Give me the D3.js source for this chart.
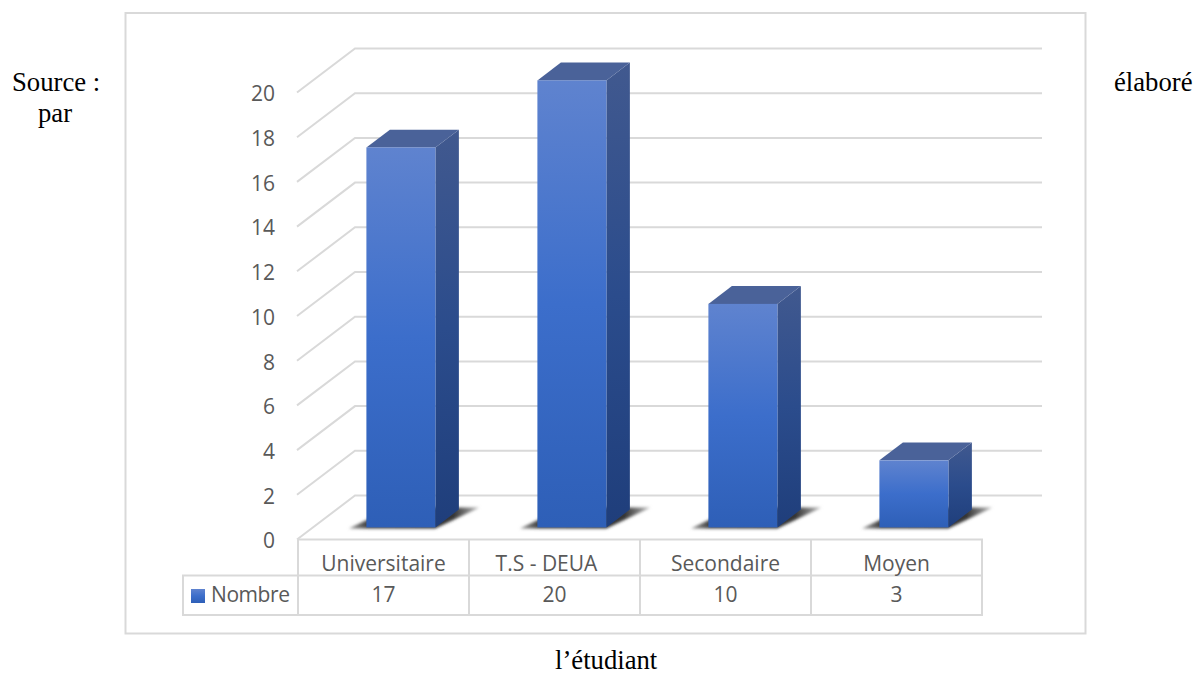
<!DOCTYPE html>
<html lang="fr">
<head>
<meta charset="utf-8">
<title>Nombre par niveau d'études</title>
<script src="https://cdn.jsdelivr.net/npm/d3@7/dist/d3.min.js"></script>
<style>
html,body{margin:0;padding:0;background:#fff;}
svg{display:block;}
.tick-label,.cell{font-family:"Open Sans",sans-serif;font-size:21px;fill:#595959;}
.note{font-family:"Liberation Serif",serif;font-size:26.7px;fill:#000;}
</style>
</head>
<body>
<svg id="chart" width="1194" height="675"></svg>
<script>
const categories = ["Universitaire", "T.S - DEUA", "Secondaire", "Moyen"];
const values = [17, 20, 10, 3];
const seriesName = "Nombre";
const yTicks = [0, 2, 4, 6, 8, 10, 12, 14, 16, 18, 20];

const svg = d3.select("#chart");
const grey = "#d9d9d9";

const x = d3.scaleBand().domain(categories).range([298, 982]);
const y = d3.scaleLinear().domain([0, 20]).range([539.5, 92.5]);

// Oblique projection: depth 0 is the front of the floor, depth 1 the back wall.
const depthX = 58, depthY = -44;
const project = (px, v, depth) => [px + depthX * depth, y(v) + depthY * depth];
const path = pts => "M" + pts.map(p => p.join(",")).join("L") + "Z";

const barDepthFront = 0.275, barDepthBack = 0.68;
const barWidth = 69;
const barInset = 68.4;

// Gradients and soft shadow
const defs = svg.append("defs");
function gradient(id, stops, horizontal) {
  const g = defs.append("linearGradient").attr("id", id)
    .attr("x1", 0).attr("y1", 0).attr("x2", horizontal ? 1 : 0).attr("y2", horizontal ? 0 : 1);
  stops.forEach(s => g.append("stop").attr("offset", s[0]).attr("stop-color", s[1]));
}
gradient("front", [[0, "#5f83cf"], [0.5, "#3c6ecb"], [1, "#2e5fb7"]]);
gradient("side", [[0, "#41598f"], [0.5, "#2b4c8c"], [1, "#1f3e7b"]]);
gradient("legendKey", [[0, "#5f83cf"], [0.5, "#3c6ecb"], [1, "#2e5fb7"]]);
gradient("shadow", [[0, "#999"], [0.14, "#444"], [0.8, "#333"], [1, "#bbb"]], true);
defs.append("filter").attr("id", "soft")
  .attr("x", "-20%").attr("y", "-40%").attr("width", "140%").attr("height", "180%")
  .append("feGaussianBlur").attr("stdDeviation", 1.5);

// Outer frame
svg.append("rect").attr("x", 125.5).attr("y", 13).attr("width", 960).attr("height", 620.5)
  .attr("fill", "#fff").attr("stroke", grey).attr("stroke-width", 2);

// Gridlines: slanted on the side wall, horizontal on the back wall
const grid = svg.append("g").attr("fill", "none").attr("stroke", grey).attr("stroke-width", 2);
yTicks.forEach(t => {
  const a = project(297, t, 0), b = project(297, t, 1), c = [1042, b[1]];
  grid.append("path").attr("d", `M${a}L${b}L${c}`);
});

// Value axis labels
svg.append("g").selectAll("text").data(yTicks).join("text")
  .attr("class", "tick-label").attr("text-anchor", "end")
  .attr("x", 275).attr("y", d => y(d)).attr("dy", "0.42em")
  .text(d => d);

// Bars
const bars = svg.append("g").selectAll("g").data(categories).join("g");

bars.append("path")
  .attr("fill", "url(#shadow)").attr("filter", "url(#soft)")
  .attr("d", d => {
    const x0 = x(d) + barInset - 17.5, x1 = x(d) + barInset + barWidth;
    const base = project(0, 0, barDepthFront)[1];
    return path([[x0, base + 1], [x1, base + 1], [x1 + 44, base - 20], [x0 + 44, base - 20]]);
  });

bars.each(function (d, i) {
  const g = d3.select(this), v = values[i];
  const xl = x(d) + barInset;
  const xr = xl + barWidth;
  const dx = depthX * (barDepthBack - barDepthFront);
  const dy = depthY * (barDepthBack - barDepthFront);
  const top = project(0, v, barDepthFront)[1];
  const base = project(0, 0, barDepthFront)[1];
  g.append("path").attr("fill", "url(#side)")
    .attr("d", path([[xr, top], [xr + dx, top + dy], [xr + dx, base + dy], [xr, base]]));
  g.append("path").attr("fill", "#4a6299")
    .attr("d", path([[xl, top], [xl + dx, top + dy], [xr + dx, top + dy], [xr, top]]));
  g.append("rect").attr("x", xl).attr("y", top).attr("width", barWidth).attr("height", base - top)
    .attr("fill", "url(#front)");
});

// Data table under the plot
const rowTop = y(0), rowMid = 575.5, rowBottom = 615;
const table = svg.append("g").attr("fill", "none").attr("stroke", grey).attr("stroke-width", 2);
table.append("path").attr("d", `M298,${rowTop}H982V${rowBottom}H183V${rowMid}H982`);
categories.concat([null]).forEach(c => {
  const px = c === null ? 982 : x(c);
  table.append("path").attr("d", `M${px},${rowTop}V${rowBottom}`);
});

// The second heading sits a little left of its cell centre
const headingShift = d => (d === "T.S - DEUA" ? -8 : 0);
svg.append("g").selectAll("text").data(categories).join("text")
  .attr("class", "cell").attr("text-anchor", "middle")
  .attr("x", d => x(d) + x.bandwidth() / 2 + headingShift(d)).attr("y", 571).text(d => d);
svg.append("g").selectAll("text").data(values).join("text")
  .attr("class", "cell").attr("text-anchor", "middle")
  .attr("x", (d, i) => x(categories[i]) + x.bandwidth() / 2).attr("y", 602).text(d => d);

// Legend key in the table
svg.append("rect").attr("x", 191).attr("y", 589).attr("width", 14).attr("height", 14)
  .attr("fill", "url(#legendKey)");
svg.append("text").attr("class", "cell").attr("x", 211).attr("y", 602)
  .attr("textLength", 79).text(seriesName);

// Surrounding document text
const notes = [
  ["Source :", 12, 90.5],
  ["par", 38, 121.5],
  ["élaboré", 1114, 90.5],
  ["l’étudiant", 555, 669]
];
svg.append("g").selectAll("text").data(notes).join("text")
  .attr("class", "note").attr("x", d => d[1]).attr("y", d => d[2]).text(d => d[0]);
</script>
</body>
</html>
